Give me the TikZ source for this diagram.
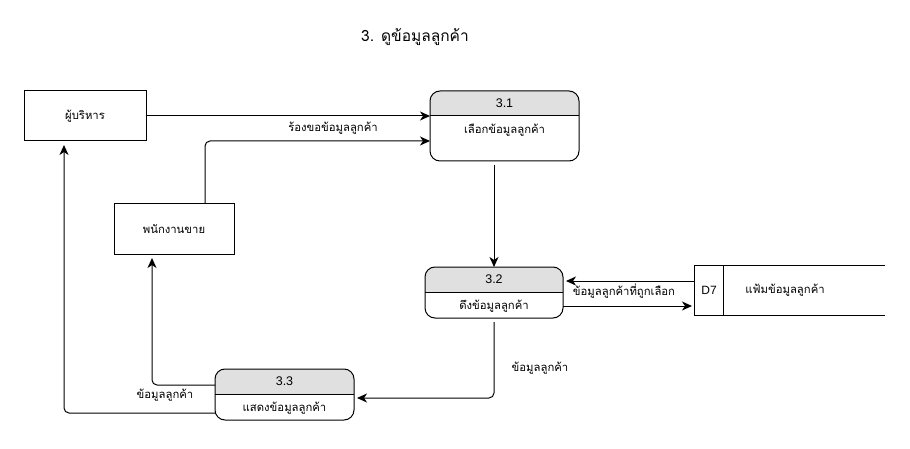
\documentclass[tikz,border=0pt]{standalone}
\usepackage{fontspec}
\setmainfont{Liberation Sans}
\newfontfamily\thai[Script=Thai]{Loma}
\usetikzlibrary{arrows.meta,calc}
\definecolor{hdrgray}{HTML}{E0E0E0}
\tikzset{
  ext/.style={draw, line width=1pt, outer sep=0pt, inner sep=0pt},
  anchorbox/.style={outer sep=0pt, inner sep=0pt},
  procborder/.style={draw, line width=1pt, rounded corners=10pt},
  flow/.style={draw, line width=1pt, -{Stealth[length=10pt,width=9pt,inset=3pt]}},
  lbl/.style={font=\thai\fontsize{11.3}{13}\selectfont, inner sep=1pt},
  numtxt/.style={font=\fontsize{12.5}{14}\selectfont, inner sep=0pt},
}
\newcommand\dfdproc[7]{%
  \node[anchorbox, minimum width=#4, minimum height=#5] (#1) at (#2,#3) {};
  \begin{scope}
    \clip[rounded corners=10pt] (#1.north west) rectangle (#1.south east);
    \fill[hdrgray] (#1.north west) rectangle ([yshift=-25pt]#1.north east);
  \end{scope}
  \draw[line width=1pt] ([yshift=-25pt]#1.north west) -- ([yshift=-25pt]#1.north east);
  \draw[procborder] (#1.north west) rectangle (#1.south east);
  \node[numtxt] (#1-num) at ([yshift=-12.5pt]#1.north) {#6};
  \node[lbl] (#1-txt) at ([yshift=-39pt]#1.north) {#7};
}
\begin{document}
\begin{tikzpicture}[x=1pt,y=-1pt]
\useasboundingbox (0,0) rectangle (910,449);
\fill[white] (0,0) rectangle (910,449);

\node[font=\thai\fontsize{15.5}{18}\selectfont] (title) at (415,37) {3. ดูข้อมูลลูกค้า};

% external entities
\node[ext, minimum width=122pt, minimum height=50pt, font=\thai\fontsize{11.3}{13}\selectfont] (boss) at (85,116) {ผู้บริหาร};
\node[ext, minimum width=120pt, minimum height=50pt, font=\thai\fontsize{11.3}{13}\selectfont] (sales) at (174,229) {พนักงานขาย};

% processes
\dfdproc{p31}{504.5}{126}{149pt}{70pt}{3.1}{เลือกข้อมูลลูกค้า}
\dfdproc{p32}{494}{292.5}{138pt}{51pt}{3.2}{ดึงข้อมูลลูกค้า}
\dfdproc{p33}{284.5}{394.5}{139pt}{51pt}{3.3}{แสดงข้อมูลลูกค้า}

% data store
\node[anchorbox, minimum width=191pt, minimum height=50pt] (d7) at (789.5,290) {};
\draw[line width=1pt] (d7.north east) -- (d7.north west) -- (d7.south west) -- (d7.south east);
\draw[line width=1pt] ([xshift=29pt]d7.north west) -- ([xshift=29pt]d7.south west);
\node[font=\fontsize{12}{14}\selectfont, inner sep=0pt] (d7id) at (709,290) {D7};
\node[lbl] (d7name) at (785,290) {แฟ้มข้อมูลลูกค้า};

% flows
\draw[flow] (boss.east) -- (boss.east -| p31.west);
\draw[flow, rounded corners=5pt] ([xshift=31pt]sales.north) |- ([yshift=-15pt]p31.west);
\node[lbl] (l1) at (333,128) {ร้องขอข้อมูลลูกค้า};

\draw[flow, shorten <=4pt] (p32.north |- p31.south) -- (p32.north);

\draw[flow, shorten >=3pt] ([yshift=9pt]d7.west) -- ([yshift=9pt]d7.west -| p32.east);
\node[lbl] (l2) at (624,291) {ข้อมูลลูกค้าที่ถูกเลือก};
\draw[flow, shorten >=2pt] ([yshift=-13.5pt]p32.east) -- ([yshift=-13.5pt]p32.east -| d7.west);

\draw[flow, rounded corners=5pt, shorten <=4pt, shorten >=3pt] (p32.south) |- ([yshift=-3.5pt]p33.east);
\node[lbl] (l3) at (540,368) {ข้อมูลลูกค้า};

\draw[flow, rounded corners=5pt, shorten >=4pt] ([yshift=9.5pt]p33.west) -| ([xshift=-22pt]sales.south);
\node[lbl] (l4) at (165,395) {ข้อมูลลูกค้า};
\draw[flow, rounded corners=5pt, shorten >=4pt] ([yshift=-18.5pt]p33.west) -| ([xshift=-21pt]boss.south);
\end{tikzpicture}
\end{document}
